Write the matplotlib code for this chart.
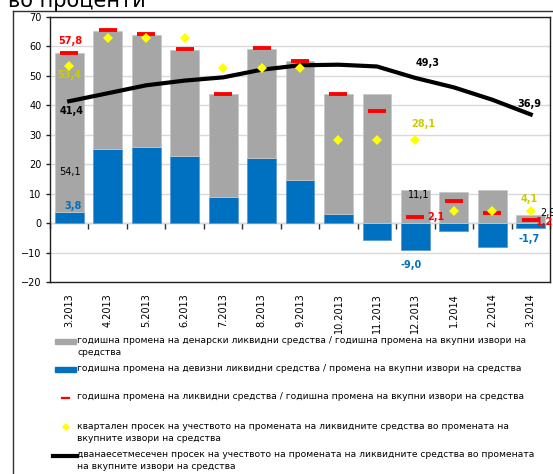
"""
Ликвидни средства - учество во промената на вкупните извори на средства
"""
import numpy as np
import matplotlib
matplotlib.use('Agg')
import matplotlib.pyplot as plt
from matplotlib.lines import Line2D
from matplotlib.patches import Rectangle

plt.rcParams['font.family'] = ['DejaVu Sans']

# податоци
months = ['3.2013', '4.2013', '5.2013', '6.2013', '7.2013', '8.2013', '9.2013',
          '10.2013', '11.2013', '12.2013', '1.2014', '2.2014', '3.2014']
denar_share = [54.1, 40.2, 38.1, 36.0, 34.9, 37.2, 40.4, 40.8, 43.9, 11.1, 10.4, 11.4, 2.9]
fx_share = [3.8, 25.2, 25.9, 22.9, 8.9, 22.0, 14.6, 3.0, -5.9, -9.0, -2.8, -8.0, -1.7]
total_share = [57.8, 65.5, 64.2, 59.0, 44.0, 59.4, 55.0, 44.0, 38.2, 2.1, 7.5, 3.6, 1.2]
quarter_avg = [53.4, 62.9, 62.9, 62.9, 52.7, 52.7, 52.7, 28.1, 28.1, 28.1, 4.1, 4.1, 4.1]
avg_12m = [41.4, 44.1, 46.8, 48.4, 49.5, 52.1, 53.6, 53.8, 53.2, 49.3, 46.1, 41.9, 36.9]

legend_labels = [
    'годишна промена на денарски ликвидни средства / годишна промена на вкупни извори на\nсредства',
    'годишна промена на девизни ликвидни средства / промена на вкупни извори на средства',
    'годишна промена на ликвидни средства / годишна промена на вкупни извори на средства',
    'квартален просек на учеството на промената на ликвидните средства во промената на\nвкупните извори на средства',
    'дванаесетмесечен просек на учеството на промената на ликвидните средства во промената\nна вкупните извори на средства',
]

GRAY = '#a6a6a6'
BLUE = '#0070c0'
RED = '#ff0000'
YELLOW = '#ffff00'
YTEXT = '#cccc00'

W, H = 553, 474
fig = plt.figure(figsize=(W / 100, H / 100), dpi=100)
fig.patch.set_facecolor('white')


def fx(px):
    return px / W


def fy(py):
    return 1 - py / H


ax = fig.add_axes([fx(50), fy(282), fx(550) - fx(50), fy(17) - fy(282)])

x = np.arange(len(months))
fx_arr = np.array(fx_share)
gray_bottom = np.where(fx_arr > 0, fx_arr, 0)

ax.bar(x, fx_share, width=0.75, color=BLUE, edgecolor='#5a9bd5', linewidth=0.6, zorder=2)
ax.bar(x, denar_share, width=0.75, bottom=gray_bottom, color=GRAY,
       edgecolor='#c8c8c8', linewidth=0.6, zorder=2)
ax.plot(x, total_share, linestyle='none', marker='_', markersize=12.5,
        markeredgewidth=2.8, color=RED, zorder=3)
ax.plot(x, avg_12m, color='black', linewidth=3, zorder=4)
ax.plot(x, quarter_avg, linestyle='none', marker='D', markersize=5.5,
        color=YELLOW, markeredgewidth=0, zorder=5)

ax.set_xlim(-0.5, len(months) - 0.5)
ax.set_ylim(-20, 70)
ax.set_yticks(np.arange(-20, 71, 10))
ax.grid(True, axis='y', color='#d9d9d9', linewidth=1, zorder=0)
ax.set_axisbelow(True)
for s in ax.spines.values():
    s.set_color('#202020')
    s.set_linewidth(1)
ax.tick_params(axis='y', labelsize=7, length=3, width=1, color='#202020', pad=3)
ax.set_xticks(x)
ax.set_xticklabels(months, rotation=90, fontsize=7)
ax.tick_params(axis='x', length=0, pad=8)

# оска на нула со поделки меѓу категориите
sec = ax.secondary_xaxis(2 / 9)
sec.set_xticks(np.arange(-0.5, len(months), 1))
sec.tick_params(axis='x', direction='out', length=4, width=1, color='#303030',
                labelbottom=False, labeltop=False)
for s in sec.spines.values():
    s.set_color('#303030')


# ознаки на вредности
def lab(xv, yv, txt, color, dx, dy, bold=True, ha='center'):
    ax.annotate(txt, (xv, yv), xytext=(dx, dy), textcoords='offset pixels',
                ha=ha, va='center', fontsize=7, color=color,
                fontweight='bold' if bold else 'normal', annotation_clip=False, zorder=6)


fmt = lambda v: f'{v:.1f}'.replace('.', ',')
lab(0, total_share[0], fmt(total_share[0]), RED, 1, 12)
lab(0, quarter_avg[0], fmt(quarter_avg[0]), YTEXT, 0, -9)
lab(0, avg_12m[0], fmt(avg_12m[0]), 'black', 2, -10)
lab(0, fx_share[0] + denar_share[0] / 4, fmt(denar_share[0]), 'black', 1, 0, bold=False)
lab(0, fx_share[0], fmt(fx_share[0]), BLUE, 4, 6)
lab(9, avg_12m[9], fmt(avg_12m[9]), 'black', 12, 15)
lab(12, avg_12m[12], fmt(avg_12m[12]), 'black', -1, 10)
lab(9, quarter_avg[9], fmt(quarter_avg[9]), YTEXT, 8, 16)
lab(9, denar_share[9], fmt(denar_share[9]), 'black', 3, -5, bold=False)
lab(9, total_share[9], fmt(total_share[9]), RED, 20, 0)
lab(9, fx_share[9], fmt(fx_share[9]), BLUE, -4, -15)
lab(12, quarter_avg[12], fmt(quarter_avg[12]), YTEXT, -2, 12)
lab(12, denar_share[12], fmt(denar_share[12]), 'black', 9, 2, bold=False, ha='left')
lab(12, total_share[12], fmt(total_share[12]), RED, 5, -2, ha='left')
lab(12, fx_share[12], fmt(fx_share[12]), BLUE, -2, -11)

# наслов (отсечен на врвот)
fig.text(fx(8), fy(7), 'во проценти', fontsize=15, va='baseline', ha='left')

# надворешна рамка
fig.add_artist(Line2D([fx(13), fx(W + 5)], [fy(10.5), fy(10.5)], color='#303030', lw=1))
fig.add_artist(Line2D([fx(13), fx(13)], [fy(10.5), fy(H + 5)], color='#303030', lw=1))

# легенда
tx = fx(77)
fig.add_artist(Rectangle((fx(55), fy(343.5)), fx(76) - fx(55), fy(338.5) - fy(343.5),
                         transform=fig.transFigure, color=GRAY))
fig.add_artist(Rectangle((fx(55), fy(371.5)), fx(76) - fx(55), fy(366.5) - fy(371.5),
                         transform=fig.transFigure, color=BLUE))
fig.add_artist(Line2D([fx(62), fx(69)], [fy(397.5), fy(397.5)], color=RED, lw=1.6))
fig.add_artist(Line2D([fx(65.7)], [fy(427)], marker='D', markersize=4.5,
                      color=YELLOW, markeredgewidth=0, linestyle='none'))
fig.add_artist(Line2D([fx(53), fx(77)], [fy(455.5), fy(455.5)], color='black', lw=3))

for ypx, txt in zip([341, 369, 397, 427, 455], legend_labels):
    fig.text(tx, fy(ypx - 5), txt, fontsize=6.6, va='top', ha='left',
             linespacing=1.45, transform=fig.transFigure)

fig.savefig('out.png', dpi=100)
